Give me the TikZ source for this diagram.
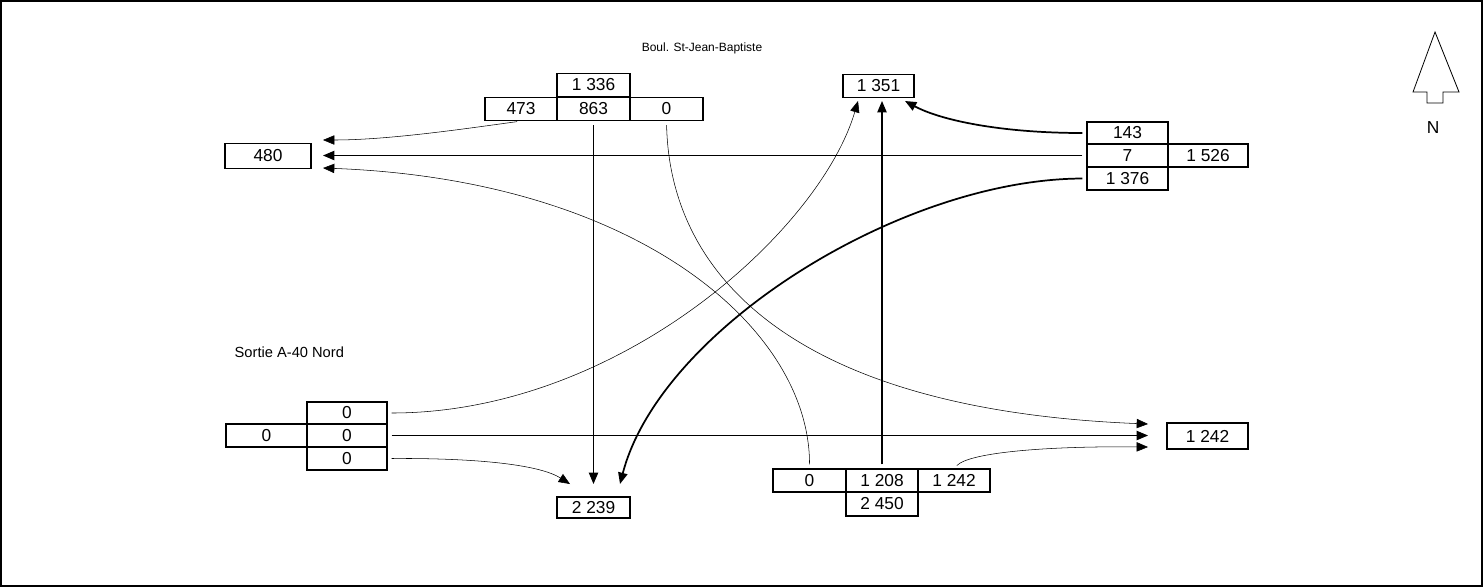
\documentclass[tikz,border=0pt]{standalone}
\usepackage{fontspec}
\setmainfont{Liberation Sans}
\usetikzlibrary{arrows.meta}
\begin{document}
\begin{tikzpicture}[x=0.75pt,y=-0.75pt,
  font=\fontsize{13}{15}\selectfont,
  cell/.style={draw,line width=0.9pt,inner sep=0pt,minimum height=23*0.75pt},
  lbl/.style={font=\fontsize{11}{13}\selectfont},
  flow/.style={-{Triangle[length=8.5pt,width=7pt]},line width=0.8pt,shorten <=3pt},
  thinflow/.style={flow,line width=0.4pt},
  thickflow/.style={flow,line width=1.3pt}]
\useasboundingbox (0,0) rectangle (1483,587);
\draw[line width=0.9pt] (1,1) rectangle (1482,586);

\node[lbl,font=\fontsize{9}{11}\selectfont] (road) at (702,48) {Boul. St-Jean-Baptiste};
\node[lbl,anchor=west] (ramp) at (230,352) {Sortie A-40 Nord};

% north approach
\node[cell,minimum width=73*0.75pt] (ntot) at (593.5,85) {1 336};
\node[cell,minimum width=72*0.75pt] (nr) at (521,109) {473};
\node[cell,minimum width=73*0.75pt] (nt) at (593.5,109) {863};
\node[cell,minimum width=73*0.75pt] (nl) at (666.5,109) {0};
\node[cell,minimum width=71*0.75pt] (nout) at (878.5,86) {1 351};

% east approach
\node[cell,minimum width=81*0.75pt,minimum height=22*0.75pt] (er) at (1127.5,133) {143};
\node[cell,minimum width=81*0.75pt] (et) at (1127.5,155.5) {7};
\node[cell,minimum width=81*0.75pt] (el) at (1127.5,178.5) {1 376};
\node[cell,minimum width=80*0.75pt] (etot) at (1208,155.5) {1 526};
\node[cell,minimum width=86*0.75pt,minimum height=25*0.75pt] (wout) at (268,156) {480};

% west approach
\node[cell,minimum width=80*0.75pt,minimum height=22*0.75pt] (wl) at (347,413) {0};
\node[cell,minimum width=80*0.75pt] (wt) at (347,435.5) {0};
\node[cell,minimum width=80*0.75pt] (wr) at (347,458.5) {0};
\node[cell,minimum width=81*0.75pt] (wtot) at (266.5,435.5) {0};
\node[cell,minimum width=81*0.75pt,minimum height=26*0.75pt] (eout) at (1207.5,436) {1 242};

% south approach
\node[cell,minimum width=73*0.75pt] (sl) at (809.5,480.5) {0};
\node[cell,minimum width=72*0.75pt] (st) at (882,480.5) {1 208};
\node[cell,minimum width=72*0.75pt] (sr) at (954,480.5) {1 242};
\node[cell,minimum width=72*0.75pt,minimum height=24*0.75pt] (stot) at (882,504) {2 450};
\node[cell,minimum width=73*0.75pt,minimum height=21*0.75pt] (sout) at (593.5,507.5) {2 239};

\coordinate (win1) at (323,140);
\coordinate (win2) at (323,155.5);
\coordinate (win3) at (323,168);
\coordinate (nin1) at (858,101);
\coordinate (nin2) at (882,101);
\coordinate (nin3) at (905,101);
\coordinate (ein1) at (1148,424);
\coordinate (ein2) at (1148,435.5);
\coordinate (ein3) at (1148,447);
\coordinate (sin1) at (570,484);
\coordinate (sin2) at (593.5,484);
\coordinate (sin3) at (620,484);

\draw[thinflow] (nr.south) .. controls (470,128) and (390,140) .. (win1);
\draw[flow] (nt.south) -- (sin2);
\draw[thinflow] (nl.south) .. controls (670,280) and (800,410) .. (ein1);

\draw[thickflow] (er.west) .. controls (1000,133) and (940,120) .. (nin3);
\draw[flow] (et.west) -- (win2);
\draw[thickflow] (el.west) .. controls (900,179) and (660,330) .. (sin3);

\draw[thinflow] (wl.east) .. controls (620,413) and (820,230) .. (nin1);
\draw[flow] (wt.east) -- (ein2);
\draw[thinflow] (wr.east) .. controls (480,458) and (540,465) .. (sin1);

\draw[thinflow] (sl.north) .. controls (810,330) and (640,180) .. (win3);
\draw[flow] (st.north) -- (nin2);
\draw[thinflow] (sr.north) .. controls (970,452) and (1050,446) .. (ein3);

\draw[line width=0.6pt] (1435,32) -- (1413,92) -- (1427,92) -- (1427,103) -- (1443,103) -- (1443,92) -- (1459,92) -- cycle;
\node (north) at (1433,128) {N};
\end{tikzpicture}
\end{document}
